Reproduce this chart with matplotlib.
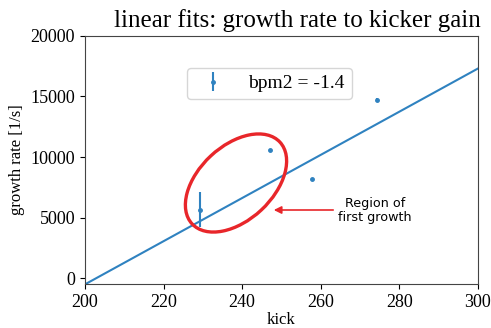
import numpy as np
import matplotlib
matplotlib.use("Agg")
import matplotlib.pyplot as plt
from matplotlib.patches import Ellipse, FancyArrowPatch
from matplotlib.transforms import IdentityTransform

# measured points (bpm2)
kick = [229.2, 247.2, 257.7, 274.2]
growth_rate = [5650, 10570, 8180, 14690]
growth_err = [1450, 120, 100, 150]

# linear fit drawn over the full kick range
fit_kick = [200, 300]
fit_rate = [-500, 17300]

plt.rcParams['font.family'] = ['Liberation Serif', 'DejaVu Serif']

fig = plt.figure(figsize=(4.91, 3.28), dpi=100)
ax = fig.add_axes([0.173, 0.133, 0.8005, 0.758])

ax.plot(fit_kick, fit_rate, color='#2f82c0', lw=1.5)
ax.errorbar(kick, growth_rate, yerr=growth_err, fmt='o', ms=2.5,
            color='#2f82c0', elinewidth=1.5, label='bpm2 = -1.4')

ax.set_xlim(200, 300)
ax.set_ylim(-500, 20000)
ax.set_xticks([200, 220, 240, 260, 280, 300])
ax.set_yticks([0, 5000, 10000, 15000, 20000])
ax.tick_params(labelsize=13)
ax.set_xlabel('kick', fontsize=12, labelpad=1)
ax.set_ylabel('growth rate [1/s]', fontsize=12)
ax.set_title('linear fits: growth rate to kicker gain', fontsize=18, pad=6, x=0.54)
for s in ax.spines.values():
    s.set_color('#444444')

ax.legend(loc='upper left', bbox_to_anchor=(0.26, 0.87), borderaxespad=0,
          fontsize=14, borderpad=0.35)

# red annotation, placed in pixels
ell = Ellipse((236, 145), 120, 74, angle=43, fill=False, edgecolor='#e8262a',
              lw=2.4, transform=IdentityTransform())
fig.add_artist(ell)
fig.add_artist(FancyArrowPatch(
    (336, 118), (271, 118), arrowstyle='-|>', mutation_scale=11,
    color='#e8262a', lw=1.2, transform=IdentityTransform()))
fig.text(375 / 491, 1 - 211 / 328, 'Region of\nfirst growth', ha='center',
         va='center', fontsize=9.2, family=['DejaVu Sans'], linespacing=1.1)

fig.savefig('out.png', dpi=100)
